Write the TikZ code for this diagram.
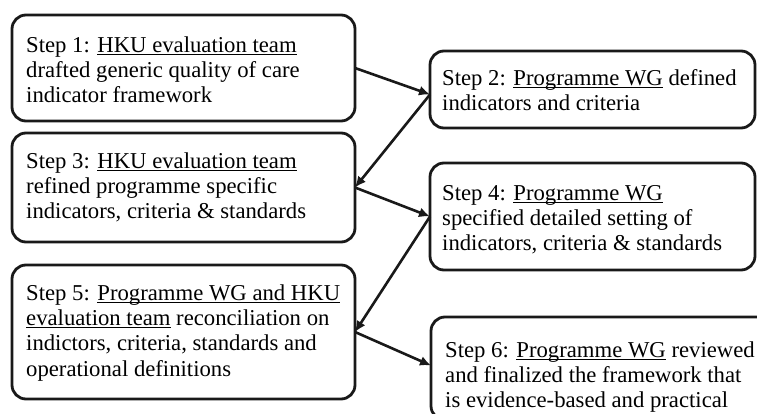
\documentclass[tikz,border=0pt]{standalone}
\usepackage{fontspec}
\setmainfont{Liberation Serif}
\usetikzlibrary{arrows.meta}
\newcommand\myul[1]{{\setbox0\hbox{#1}\rlap{\rule[-2.6pt]{\wd0}{1pt}}\box0}}
\newcommand\fl{\rule{0pt}{16pt}}
\begin{document}
\begin{tikzpicture}[x=1pt,y=-1pt,
  stepbox/.style={draw=black!90, line width=2.8pt, rounded corners=14pt, inner sep=0pt, outer sep=0pt},
  txt/.style={inner sep=0pt, align=left, anchor=north west, font=\fontsize{22.7}{25.3}\selectfont},
  arr/.style={draw=black!90, line width=2.6pt, -{Latex[length=11pt,width=10pt]}}]
\useasboundingbox (0,0) rectangle (757,414);
\clip (0,0) rectangle (757,414);
\node[stepbox, minimum width=343pt, minimum height=106pt] (b1) at (183.5,68) {};
\node[stepbox, minimum width=343pt, minimum height=109pt] (b3) at (183.5,187.5) {};
\node[stepbox, minimum width=343pt, minimum height=134pt] (b5) at (183.5,332) {};
\node[stepbox, minimum width=325pt, minimum height=77pt] (b2) at (592.5,89.5) {};
\node[stepbox, minimum width=325pt, minimum height=107pt] (b4) at (592.5,216.5) {};
\node[stepbox, minimum width=349pt, minimum height=103pt] (b6) at (605.5,368.5) {};
\node[txt] (t1) at (26,36) {\fl Step 1: \myul{HKU evaluation team}\\drafted generic quality of care\\indicator framework};
\node[txt] (t3) at (26,152) {\fl Step 3: \myul{HKU evaluation team}\\refined programme specific\\indicators, criteria \& standards};
\node[txt] (t5) at (26,284) {\fl Step 5: \myul{Programme WG and HKU}\\\myul{evaluation team} reconciliation on\\indictors, criteria, standards and\\operational definitions};
\node[txt] (t2) at (442,69) {\fl Step 2: \myul{Programme WG} defined\\indicators and criteria};
\node[txt] (t4) at (442,184) {\fl Step 4: \myul{Programme WG}\\specified detailed setting of\\indicators, criteria \& standards};
\node[txt] (t6) at (445,341) {\fl Step 6: \myul{Programme WG} reviewed\\and finalized the framework that\\is evidence-based and practical};
\draw[arr] (b1.east) -- ([yshift=-5pt]b2.west);
\draw[arr] ([yshift=-5pt]b2.west) -- (b3.east);
\draw[arr] (b3.east) -- (b4.west);
\draw[arr] (b4.west) -- (b5.east);
\draw[arr] (b5.east) -- ([yshift=3pt]b6.west);
\end{tikzpicture}
\end{document}
